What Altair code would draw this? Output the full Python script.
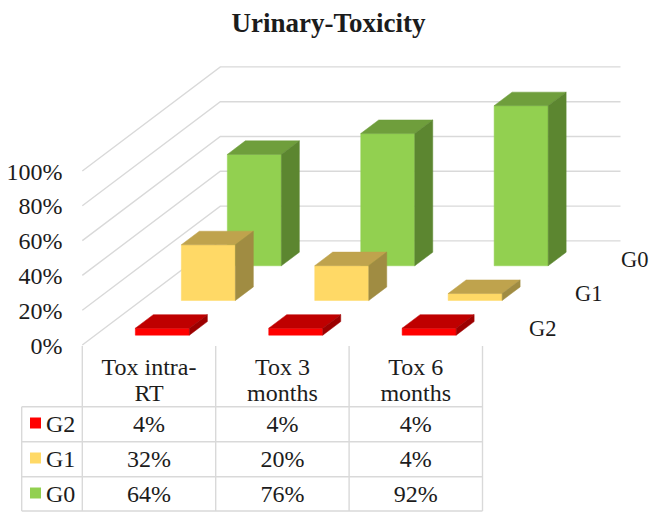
import altair as alt
import pandas as pd

TITLE = "Urinary-Toxicity"
categories = ["Tox intra-\nRT", "Tox 3\nmonths", "Tox 6\nmonths"]
series = ["G2", "G1", "G0"]
g2_values = [4, 4, 4]
g1_values = [32, 20, 4]
g0_values = [64, 76, 92]
axis_values = [0, 20, 40, 60, 80, 100]
values = {"G2": g2_values, "G1": g1_values, "G0": g0_values}
faces = {
    "G2": ("#FF0000", "#BF0000", "#9C0000"),
    "G1": ("#FFD966", "#BFA34D", "#A08C42"),
    "G0": ("#92D050", "#6F9E3C", "#5C8630"),
}

W, H = 641, 504
CELL = 133.4
PCT = 1.74
X0, Y0 = 82.3, 345.0
DX, DY = 46.0 / CELL, 34.7 / PCT
FONT = "Liberation Serif"
INK = "#1c1c1c"
GRID = "#D9D9D9"
FS = 24


def ux(px):
    return (px - X0) / CELL


def uy(py):
    return (Y0 - py) / PCT


def proj(c, d, v):
    return c + d * DX, v + d * DY


# grid walls
grid_rows = []
for v in axis_values:
    for i, (c, d) in enumerate([(0, 0), (0, 3), (3, 3)]):
        x, y = proj(c, d, v)
        grid_rows.append(dict(x=x, y=y, id=f"g{v}", i=i))

# table lines
table_rows = []
def seg(name, a, b):
    for i, (x, y) in enumerate((a, b)):
        table_rows.append(dict(x=x, y=y, id=name, i=i))

for k in range(4):
    seg(f"v{k}", (k, uy(346)), (k, uy(511)))
seg("vl", (ux(21.7), uy(406.7)), (ux(21.7), uy(511)))
for k, py in enumerate([406.7, 441.7, 476.7, 511]):
    seg(f"h{k}", (ux(21.7), uy(py)), (3, uy(py)))

# bars: painter's order, back series first
poly_rows = []
n = 0
for s in [2, 1, 0]:
    name = series[s]
    front, top, side = faces[name]
    for c, v in enumerate(values[name]):
        c0, c1 = c + 0.3, c + 0.705
        d0, d1 = s + 0.283, s + 0.674
        shapes = [
            (front, [(c0, d0, 0), (c1, d0, 0), (c1, d0, v), (c0, d0, v)]),
            (top, [(c0, d0, v), (c1, d0, v), (c1, d1, v), (c0, d1, v)]),
            (side, [(c1, d0, 0), (c1, d1, 0), (c1, d1, v), (c1, d0, v)]),
        ]
        for col, pts in shapes:
            n += 1
            for i, p in enumerate(pts + pts[:1]):
                x, y = proj(*p)
                poly_rows.append(dict(x=x, y=y, id=f"p{n:03d}", i=i, col=col, series=name, value=v))

x_enc = alt.X("x:Q", scale=alt.Scale(domain=[ux(8), ux(8 + W)], range=[0, W], nice=False, zero=False), axis=None)
y_enc = alt.Y(
    "y:Q",
    scale=alt.Scale(domain=[uy(8 + H), uy(8)], range=[H, 0], nice=False, zero=False),
    axis=alt.Axis(
        values=axis_values, labelExpr="datum.value + '%'", orient="left", offset=-54, title=None,
        domain=False, ticks=False, grid=False, labelPadding=0, labelFont=FONT, labelFontSize=FS,
        labelColor=INK, labelFlush=False, labelOverlap=False, labelOffset=1,
    ),
)

grid = alt.Chart(pd.DataFrame(grid_rows)).mark_line(color=GRID, strokeWidth=1.4).encode(
    x=x_enc, y=y_enc, detail="id:N", order="i:Q")
table = alt.Chart(pd.DataFrame(table_rows)).mark_line(color=GRID, strokeWidth=1.4).encode(
    x=x_enc, y=y_enc, detail="id:N", order="i:Q")
bars = alt.Chart(pd.DataFrame(poly_rows)).mark_line(strokeWidth=0.5, strokeJoin="miter").encode(
    x=x_enc, y=y_enc, detail="id:N", order="i:Q",
    fill=alt.Fill("col:N", scale=None), stroke=alt.Stroke("col:N", scale=None))

# texts
text_rows = []
for c, label in enumerate(categories):
    for k, line in enumerate(label.split("\n")):
        text_rows.append(dict(x=c + 0.5, y=uy(367.7 + 26.6 * k), t=line, a="c"))
row_centres = {"G2": 425.0, "G1": 460.0, "G0": 495.0}
for name in series:
    for c, v in enumerate(values[name]):
        text_rows.append(dict(x=c + 0.5, y=uy(row_centres[name]), t=f"{v}%", a="c"))
text_df = pd.DataFrame(text_rows)
cell_text = alt.Chart(text_df).mark_text(font=FONT, fontSize=FS, color=INK, align="center", baseline="middle").encode(
    x=x_enc, y=y_enc, text="t:N")

row_df = pd.DataFrame([dict(x=ux(46), y=uy(row_centres[s]), t=s) for s in series])
row_text = alt.Chart(row_df).mark_text(font=FONT, fontSize=FS, color=INK, align="left", baseline="middle").encode(
    x=x_enc, y=y_enc, text="t:N")
key_df = pd.DataFrame([dict(x=ux(35.5), y=uy(row_centres[s] - 2), col=faces[s][0]) for s in series])
keys = alt.Chart(key_df).mark_square(size=121, opacity=1, filled=True).encode(
    x=x_enc, y=y_enc, color=alt.Color("col:N", scale=None))

depth_df = pd.DataFrame([dict(x=ux(529 + 46 * s), y=uy(329 - 34.7 * s), t=series[s]) for s in range(3)])
depth_text = alt.Chart(depth_df).mark_text(font=FONT, fontSize=22.5, color=INK, align="left", baseline="middle").encode(
    x=x_enc, y=y_enc, text="t:N")

chart = alt.layer(grid, table, bars, cell_text, row_text, keys, depth_text).properties(
    width=W, height=H, padding=0,
    autosize=alt.AutoSizeParams(type="none"),
    title=alt.Title(TITLE, font=FONT, fontSize=27, fontWeight="bold", color=INK,
                    anchor="middle", offset=-30, dx=0),
).configure_view(stroke=None)

chart.save("out.html", embed_options={"renderer": "svg", "actions": False})
